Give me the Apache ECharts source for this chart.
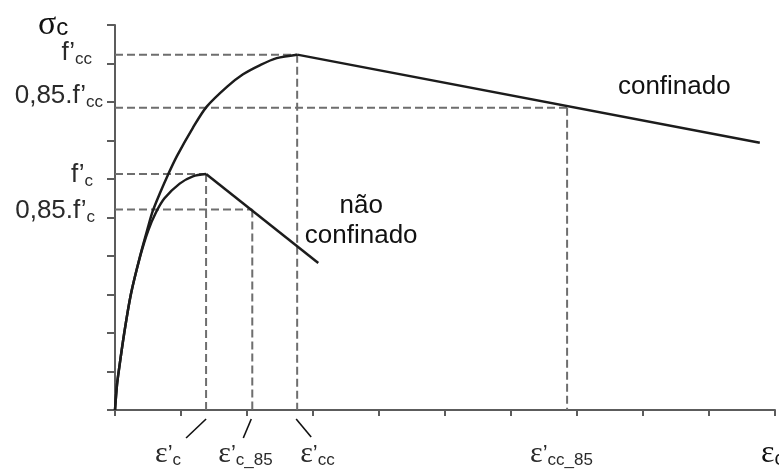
<!DOCTYPE html>
<html>
<head>
<meta charset="utf-8">
<script src="https://cdn.jsdelivr.net/npm/echarts@6/dist/echarts.min.js"></script>
<style>
  html, body { margin: 0; padding: 0; background: #ffffff; }
  #chart { width: 779px; height: 472px; }
</style>
</head>
<body>
<div id="chart"></div>
<script>
// Characteristic stress levels (vertical axis units) and their labels
const stressLevels = [9.23, 7.85, 6.13, 5.21];
const stressMain = ['f’', '0,85.f’', 'f’', '0,85.f’'];
const stressSub = ['cc', 'cc', 'c', 'c'];

// Strain at which each stress level is reached, with its label subscript
const strainLevels = [2.76, 6.85, 1.38, 2.08];
const strainSub = ['cc', 'cc_85', 'c', 'c_85'];

// Confined concrete: ascending branch and linear descending branch
const confinedRise = [
  [0, 0], [0.03, 0.65], [0.06, 1.05], [0.14, 2.0], [0.24, 3.0], [0.38, 4.0],
  [0.5, 4.75], [0.57, 5.16], [0.68, 5.63], [0.8, 6.1], [0.94, 6.6],
  [1.18, 7.33], [1.39, 7.88], [1.7, 8.4], [1.94, 8.72], [2.2, 8.96],
  [2.45, 9.14], [2.76, 9.23]
];
const confinedFall = [[2.76, 9.23], [9.77, 6.94]];

// Unconfined concrete: ascending branch and linear descending branch
const unconfinedRise = [
  [0, 0], [0.03, 0.65], [0.06, 1.05], [0.14, 2.0], [0.24, 3.0], [0.38, 3.98],
  [0.5, 4.65], [0.62, 5.13], [0.75, 5.5], [0.98, 5.88], [1.18, 6.07],
  [1.38, 6.13]
];
const unconfinedFall = [[1.38, 6.13], [3.08, 3.82]];

const chart = echarts.init(document.getElementById('chart'), null, { renderer: 'canvas' });

const SANS = '"Liberation Sans", Arial, sans-serif';
const SERIF = '"Liberation Serif", "DejaVu Serif", serif';
const axisColor = '#5c5c5c';
const guideStyle = { color: '#6e6e6e', width: 2, type: [8, 4] };
const curveStyle = { color: '#1c1c1c', width: 2.5 };

const guideSeries = [];
stressLevels.forEach((s, i) => {
  const e = strainLevels[i];
  guideSeries.push({
    type: 'line', data: [[0, s], [e, s]], symbol: 'none', silent: true, z: 1,
    lineStyle: guideStyle
  });
  guideSeries.push({
    type: 'line', data: [[e, s], [e, 0]], symbol: 'none', silent: true, z: 1,
    lineStyle: guideStyle
  });
});

const curve = (data, smooth) => ({
  type: 'line', data, symbol: 'none', silent: true, z: 3,
  smooth: smooth ? 0.3 : false,
  lineStyle: curveStyle
});

chart.setOption({
  animation: false,
  backgroundColor: '#ffffff',
  grid: { left: 115, right: 4, top: 25, bottom: 62 },
  xAxis: {
    type: 'value', min: 0, max: 10, interval: 1,
    axisLine: { show: true, lineStyle: { color: axisColor, width: 2 } },
    axisTick: { show: true, inside: false, length: 6, lineStyle: { color: axisColor, width: 2 } },
    axisLabel: { show: false },
    splitLine: { show: false }
  },
  yAxis: {
    type: 'value', min: 0, max: 10, interval: 1,
    axisLine: { show: true, lineStyle: { color: axisColor, width: 2 } },
    axisTick: { show: true, inside: false, length: 8, lineStyle: { color: axisColor, width: 2 } },
    axisLabel: { show: false },
    splitLine: { show: false }
  },
  series: guideSeries.concat([
    curve(confinedRise, true),
    curve(confinedFall, false),
    curve(unconfinedRise, true),
    curve(unconfinedFall, false)
  ])
});

// Annotations positioned through the chart's own coordinate conversion
const toPx = (pt) => chart.convertToPixel({ gridIndex: 0 }, pt);
const richLabel = {
  m: { fontFamily: SANS, fontSize: 26, lineHeight: 30, fill: '#2a2a2a' },
  s: { fontFamily: SANS, fontSize: 17, lineHeight: 20, verticalAlign: 'bottom', fill: '#2a2a2a' },
  g: { fontFamily: SERIF, fontSize: 30, lineHeight: 30, fill: '#2a2a2a' },
  q: { fontFamily: SANS, fontSize: 22, lineHeight: 30, fill: '#2a2a2a' }
};

const graphics = [];

// Stress labels left of the vertical axis
const stressDx = [-23, -12, -22, -20];
const stressDy = [-2, -12, 1, 1];
stressLevels.forEach((s, i) => {
  const p = toPx([0, s]);
  graphics.push({
    type: 'text', silent: true,
    style: {
      text: '{m|' + stressMain[i] + '}{s|' + stressSub[i] + '}',
      x: p[0] + stressDx[i], y: p[1] + stressDy[i],
      align: 'right', verticalAlign: 'middle', rich: richLabel
    }
  });
});

// Strain labels under the horizontal axis, with short leader lines
const strainDx = [3, -37, -51, -34];
const leaders = [[14, 27, -1, 9], null, [-20, 28, 0, 9], [-9, 28, -1, 9]];
strainLevels.forEach((e, i) => {
  const p = toPx([e, 0]);
  graphics.push({
    type: 'text', silent: true,
    style: {
      text: '{g|ε}{q|’}{s|' + strainSub[i] + '}',
      x: p[0] + strainDx[i], y: p[1] + 29,
      align: 'left', verticalAlign: 'top', rich: richLabel
    }
  });
  const l = leaders[i];
  if (l) {
    graphics.push({
      type: 'line', silent: true,
      shape: { x1: p[0] + l[0], y1: p[1] + l[1], x2: p[0] + l[2], y2: p[1] + l[3] },
      style: { stroke: '#111111', lineWidth: 1.6 }
    });
  }
});

// Axis titles
const yAxisTop = toPx([0, 10]);
graphics.push({
  type: 'text', silent: true,
  style: {
    text: '{g|σ}{c|c}', x: yAxisTop[0] - 77, y: yAxisTop[1] - 15,
    align: 'left', verticalAlign: 'top',
    rich: {
      g: { fontFamily: SERIF, fontSize: 34, lineHeight: 30, fill: '#111111' },
      c: { fontFamily: SANS, fontSize: 24, lineHeight: 24, verticalAlign: 'bottom', fill: '#111111' }
    }
  }
});
const xAxisEnd = toPx([10, 0]);
graphics.push({
  type: 'text', silent: true,
  style: {
    text: '{g|ε}{c|c}', x: xAxisEnd[0] - 14, y: xAxisEnd[1] + 29,
    align: 'left', verticalAlign: 'top',
    rich: {
      g: { fontFamily: SERIF, fontSize: 32, lineHeight: 30, fill: '#111111' },
      c: { fontFamily: SANS, fontSize: 20, lineHeight: 22, verticalAlign: 'bottom', fill: '#111111' }
    }
  }
});

// Curve names
const confinedName = toPx([7.62, 8.05]);
graphics.push({
  type: 'text', silent: true,
  style: {
    text: 'confinado', x: confinedName[0], y: confinedName[1],
    align: 'left', verticalAlign: 'bottom',
    fontFamily: SANS, fontSize: 26, fill: '#111111'
  }
});
const unconfinedName = toPx([3.73, 5.7]);
graphics.push({
  type: 'text', silent: true,
  style: {
    text: 'não\nconfinado', x: unconfinedName[0], y: unconfinedName[1],
    align: 'center', verticalAlign: 'top', lineHeight: 30,
    fontFamily: SANS, fontSize: 26, fill: '#111111'
  }
});

chart.setOption({ graphic: { elements: graphics } });
</script>
</body>
</html>
